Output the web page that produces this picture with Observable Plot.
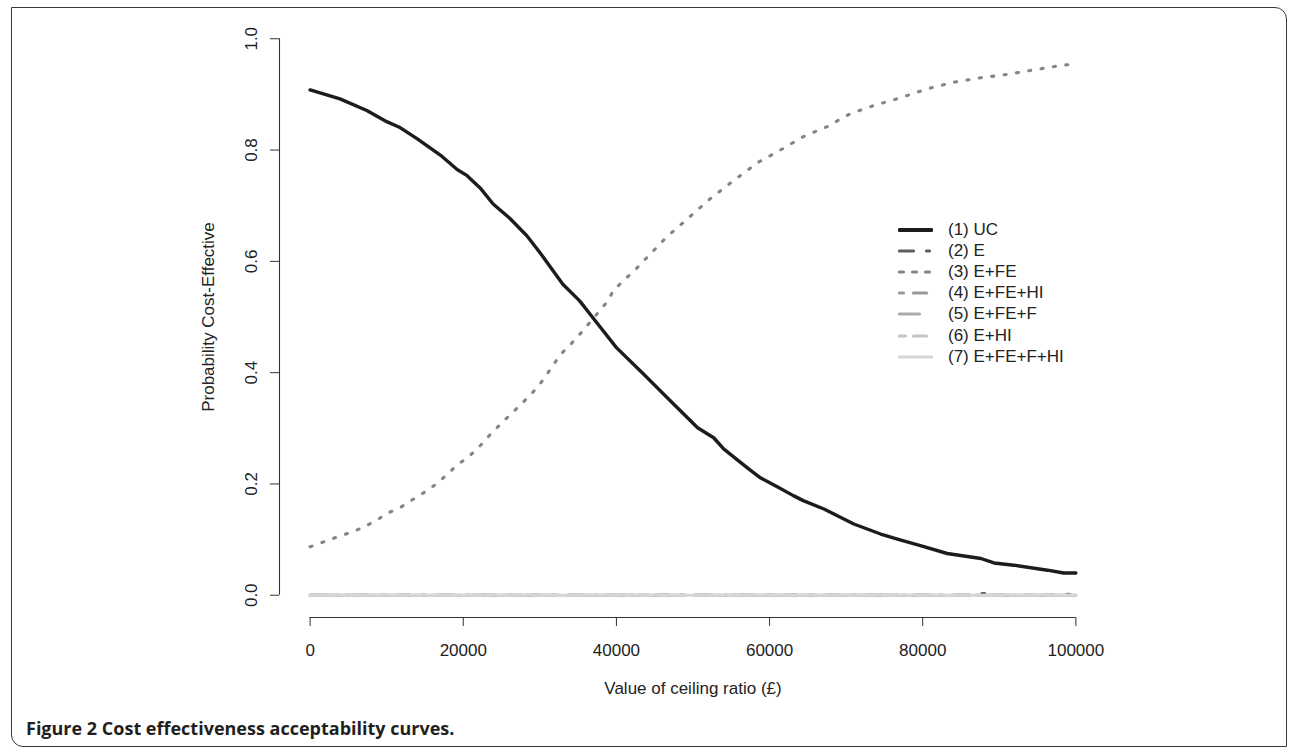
<!DOCTYPE html>
<html><head><meta charset="utf-8">
<script src="https://cdn.jsdelivr.net/npm/d3@7"></script>
<script src="https://cdn.jsdelivr.net/npm/@observablehq/plot@0.6"></script>
<style>
body{margin:0;background:#fff;}
#wrap{position:relative;width:1290px;height:750px;overflow:hidden;font-family:"Liberation Sans",Arial,sans-serif;background:#fff;}
#frame{position:absolute;left:11px;top:7px;width:1276px;height:740px;border:1.6px solid #3a3a3a;border-radius:0 12px 0 12px;box-sizing:border-box;}
#chart{position:absolute;left:0;top:0;}
#legend{position:absolute;left:898px;top:219px;font-size:17px;color:#222;}
#legend .row{display:flex;align-items:center;height:21.2px;}
#legend svg{width:35px;height:8px;margin-right:15px;}
#caption{position:absolute;left:26px;top:716px;font-family:"Open Sans",sans-serif;font-weight:700;font-size:18px;color:#231f20;white-space:nowrap;}
</style></head>
<body>
<div id="wrap">
  <div id="frame"></div>
  <div id="chart"></div>
  <div id="legend"></div>
  <div id="caption">Figure 2 Cost effectiveness acceptability curves.</div>
</div>
<script>
// ---- data ----
const xTicks = [0, 20000, 40000, 60000, 80000, 100000];
const yTicks = [0, 0.2, 0.4, 0.6, 0.8, 1.0];
const xTitle = "Value of ceiling ratio (£)";
const yTitle = "Probability Cost-Effective";

const seriesNames = ["(1) UC", "(2) E", "(3) E+FE", "(4) E+FE+HI", "(5) E+FE+F", "(6) E+HI", "(7) E+FE+F+HI"];

const ucX = [0,3900,7400,10000,11800,14000,17000,19200,20500,22200,23900,26100,28300,30000,33000,35200,36900,40000,43500,47000,50600,52700,54000,57100,58800,61000,63100,64400,67100,71000,74500,76700,79700,83200,87600,89300,91900,96300,98400,100000];
const ucY = [0.908,0.892,0.871,0.851,0.840,0.820,0.791,0.765,0.754,0.732,0.703,0.677,0.646,0.616,0.559,0.529,0.499,0.445,0.398,0.350,0.301,0.283,0.263,0.229,0.211,0.195,0.179,0.170,0.155,0.128,0.110,0.101,0.089,0.075,0.066,0.058,0.054,0.045,0.040,0.040];

const eX = [0, 86000, 86600, 88400, 89000, 98600, 99000, 99400, 100000];
const eY = [0, 0, 0.003, 0.003, 0, 0, 0.002, 0, 0];

const efeX = [0,3400,5100,6800,8600,10000,11700,13400,14700,16500,17800,19200,20800,22300,23600,24900,26400,27900,29300,30600,31700,32800,34100,35400,36700,37800,38900,39600,42600,46500,49000,52200,55300,58400,61400,64400,67500,70500,73600,77100,80600,84100,87600,91100,94500,98000,100000];
const efeY = [0.087,0.104,0.112,0.121,0.134,0.147,0.157,0.172,0.183,0.200,0.216,0.234,0.250,0.270,0.290,0.308,0.328,0.348,0.368,0.390,0.413,0.434,0.452,0.472,0.493,0.511,0.529,0.548,0.587,0.643,0.673,0.712,0.745,0.777,0.800,0.824,0.842,0.865,0.880,0.894,0.910,0.922,0.930,0.936,0.944,0.952,0.955];

const efehiX = [0, 100000];
const efehiY = [0, 0];
const efefX = [0, 100000];
const efefY = [0, 0];
const ehiX = [0, 100000];
const ehiY = [0, 0];
const allX = [0, 100000];
const allY = [0, 0];

const seriesX = [ucX, eX, efeX, efehiX, efefX, ehiX, allX];
const seriesY = [ucY, eY, efeY, efehiY, efefY, ehiY, allY];

// ---- styles ----
const seriesColors = ["#1c1c1c", "#5e5e5e", "#858585", "#999999", "#ababab", "#c4c4c4", "#d6d6d6"];
const seriesDash = [null, "14,13,3,13", "2,10.5", "4,10,13,10", "20,12", "6,8,13,8", null];
const legendDash = [null, "14,13,3,100", "4,9", "4,10,13,100", "20,100", "6,8,13,100", null];
const seriesWidth = [3.4, 3, 3.1, 3, 3, 3, 3];

// ---- build table ----
const rows = [];
seriesNames.forEach((name, i) => {
  seriesX[i].forEach((x, j) => rows.push({name, x, y: seriesY[i][j]}));
});

const xDomain = [xTicks[0] - 0.04 * (xTicks[xTicks.length-1] - xTicks[0]), xTicks[xTicks.length-1] + 0.04 * (xTicks[xTicks.length-1] - xTicks[0])];
const yDomain = [yTicks[0] - 0.04, yTicks[yTicks.length-1] + 0.04];

const lineMarks = seriesNames.map((name, i) => Plot.line(rows.filter(r => r.name === name), {
  x: "x", y: "y",
  stroke: seriesColors[i],
  strokeWidth: seriesWidth[i],
  strokeDasharray: seriesDash[i] || undefined,
  strokeLinecap: "round",
  strokeLinejoin: "round"
}));

const H = 710;
const plot = Plot.plot({
  width: 1290,
  height: H,
  marginLeft: 279,
  marginRight: 184,
  marginTop: 16,
  marginBottom: H - 617,
  x: {domain: xDomain},
  y: {domain: yDomain},
  style: {fontFamily: "'Liberation Sans', Arial, sans-serif", fontSize: "17px", color: "#222", background: "transparent", overflow: "visible"},
  marks: [
    Plot.ruleY([yDomain[0]], {x1: xTicks[0], x2: xTicks[xTicks.length-1], stroke: "#333", strokeWidth: 1.1}),
    Plot.ruleX([xDomain[0]], {y1: yTicks[0], y2: yTicks[yTicks.length-1], stroke: "#333", strokeWidth: 1.1}),
    Plot.axisX({ticks: xTicks, tickSize: 9, tickPadding: 17, tickFormat: d => String(d), label: null, fontSize: 17, stroke: "#333"}),
    Plot.axisY({ticks: yTicks, tickSize: 9, tickFormat: () => "", label: null, stroke: "#333"}),
    Plot.text(yTicks, {y: d => d, frameAnchor: "left", dx: -28, rotate: -90, textAnchor: "middle", lineAnchor: "middle", text: d => d.toFixed(1), fontSize: 17, fill: "#222"}),
    Plot.text([xTitle], {frameAnchor: "bottom", dy: 71, textAnchor: "middle", lineAnchor: "middle", text: d => d, fontSize: 17, fill: "#222"}),
    Plot.text([yTitle], {frameAnchor: "left", dx: -71, rotate: -90, textAnchor: "middle", lineAnchor: "middle", text: d => d, fontSize: 17, fill: "#222"}),
    ...lineMarks
  ]
});
document.getElementById("chart").appendChild(plot);

// ---- legend ----
const legend = d3.select("#legend");
seriesNames.forEach((name, i) => {
  const row = legend.append("div").attr("class", "row");
  const svg = row.append("svg").attr("viewBox", "0 0 35 8");
  svg.append("line")
    .attr("x1", 1.5).attr("x2", 33.5).attr("y1", 4).attr("y2", 4)
    .attr("stroke", seriesColors[i])
    .attr("stroke-width", i === 0 ? 3.8 : 3.2)
    .attr("stroke-linecap", "round")
    .attr("stroke-dasharray", legendDash[i]);
  row.append("span").text(name);
});
</script>
</body></html>
